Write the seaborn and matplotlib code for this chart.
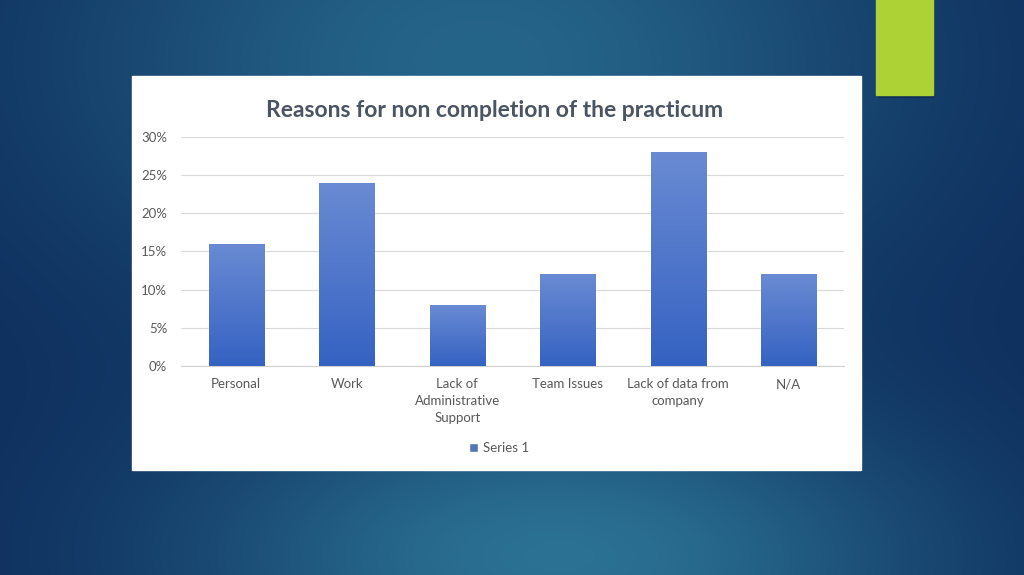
import numpy as np
import pandas as pd
from matplotlib import pyplot as plt
from matplotlib.patches import Rectangle
from matplotlib.ticker import PercentFormatter
import seaborn as sns

categories = ["Personal", "Work", "Lack of\nAdministrative\nSupport", "Team Issues",
              "Lack of data from\ncompany", "N/A"]
values = [16, 24, 8, 12, 28, 12]
series_name = "Series 1"
title = "Reasons for non completion of the practicum"

df = pd.DataFrame({"reason": categories, "pct": values})

sns.set_style("white")
plt.rcParams["font.family"] = ["Lato", "DejaVu Sans"]

fig = plt.figure(figsize=(10.24, 5.75), dpi=100)

# slide background
bg = fig.add_axes([0, 0, 1, 1])
yy, xx = np.mgrid[0:575, 0:1024]
glow1 = np.exp(-(((xx - 480) / 420) ** 2 + ((yy - 60) / 260) ** 2))
glow2 = np.exp(-(((xx - 560) / 380) ** 2 + ((yy - 560) / 160) ** 2))
t = np.clip(0.75 * glow1 + 0.9 * glow2, 0, 1)
dark = np.array([0.05, 0.17, 0.36])
light = np.array([0.18, 0.47, 0.60])
img = dark + (light - dark) * t[..., None]
bg.imshow(img, extent=[0, 1, 0, 1], aspect="auto", origin="upper")
bg.add_patch(Rectangle((0.857, 0.832), 0.054, 0.175, color="#0a1f40", alpha=0.35, zorder=2))
bg.add_patch(Rectangle((0.855, 0.835), 0.056, 0.17, color="#ACD236", zorder=3))
bg.add_patch(Rectangle((0.1289, 0.1826), 0.712, 0.6852, color="white", zorder=3))
bg.set_xlim(0, 1)
bg.set_ylim(0, 1)
bg.axis("off")

ax = fig.add_axes([0.1768, 0.3635, 0.6475, 0.3983])
ax.set_facecolor("none")
sns.barplot(data=df, x="reason", y="pct", color="#4472C4", width=0.5, ax=ax,
            label=series_name, zorder=3)

# vertical gradient inside the bars
grad = np.linspace(0, 1, 256)[:, None]
cmap = sns.blend_palette(["#3562C2", "#6A8BD3"], as_cmap=True)
for bar in ax.patches:
    x0, w, h = bar.get_x(), bar.get_width(), bar.get_height()
    im = ax.imshow(grad, extent=[x0, x0 + w, 0, h], origin="lower", aspect="auto",
                   cmap=cmap, zorder=4)
    im.set_clip_path(bar)
ax.set_xlim(-0.5, len(categories) - 0.5)
ax.set_ylim(0, 30)
ax.set_yticks(range(0, 31, 5))
ax.yaxis.set_major_formatter(PercentFormatter(decimals=0))
ax.grid(axis="y", color="#D9D9D9", linewidth=0.8, zorder=0)
sns.despine(ax=ax, left=True, top=True, right=True)
ax.spines["bottom"].set_color("#D0D0D0")
ax.tick_params(axis="both", length=0, colors="#595959", labelsize=9.5)
ax.tick_params(axis="x", pad=9)
ax.tick_params(axis="y", pad=10)
for lab in ax.get_xticklabels():
    lab.set_linespacing(1.5)
ax.set_xlabel("")
ax.set_ylabel("")

fig.text(0.483, 0.807, title, ha="center", va="center", fontsize=16.5,
         fontweight="bold", color="#4A5463")

leg = ax.legend(loc="center", bbox_to_anchor=(0.48, -0.36), frameon=False,
                fontsize=9.5, handlelength=0.7, handleheight=0.7, handletextpad=0.4)
for txt in leg.get_texts():
    txt.set_color("#595959")

fig.savefig("out.png", dpi=100)
